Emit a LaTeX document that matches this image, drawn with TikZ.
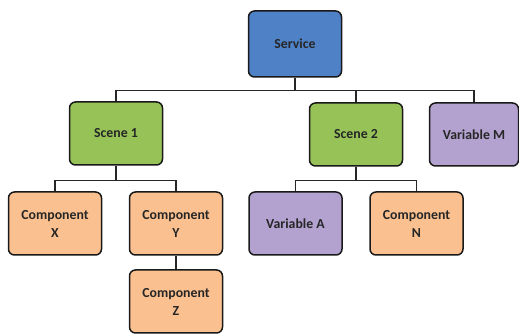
\documentclass[tikz,border=0pt]{standalone}
\usepackage{fontspec}
\setmainfont{Carlito}
\usepackage{tikz}
\usetikzlibrary{positioning}
\definecolor{svcblue}{HTML}{4F81C7}
\definecolor{scngreen}{HTML}{96C257}
\definecolor{varpurple}{HTML}{B3A2CF}
\definecolor{cmporange}{HTML}{FBC08F}
\tikzset{
    block/.style={
        draw=black!90,
        line width=1.5pt,
        rounded corners=6pt,
        minimum width=93pt,
        minimum height=63pt,
        align=center,
        inner sep=2pt,
        text=black!85,
        font=\bfseries\fontsize{13.8}{18}\selectfont
    },
    link/.style={
        draw=black!85,
        line width=1.3pt
    }
}

\begin{document}
\begin{tikzpicture}[x=1pt, y=-1pt]
    \useasboundingbox (0,0) rectangle (519,336);
    % Boxes for the tree
    \node[block, fill=svcblue, minimum height=66pt] (service) at (295,44) {Service};
    \node[block, fill=scngreen] (scene1) at (116,133.5) {Scene 1};
    \node[block, fill=scngreen] (scene2) at (356,134.5) {Scene 2};
    \node[block, fill=varpurple, minimum width=89pt] (varM) at (474,134.5) {Variable M};
    \node[block, fill=cmporange] (compX) at (55,223.5) {Component\\X};
    \node[block, fill=cmporange] (compY) at (176,223.5) {Component\\Y};
    \node[block, fill=cmporange] (compZ) at (176,301.5) {Component\\Z};
    \node[block, fill=varpurple] (varA) at (295.5,223.5) {Variable A};
    \node[block, fill=cmporange] (compN) at (416.5,223.5) {Component\\N};

    % Connectors for the tree
    \draw[link] (service.south) -- ++(0,12.5) -| (scene1.north);
    \draw[link] (service.south) -- ++(0,12.5) -| (scene2.north);
    \draw[link] (service.south) -- ++(0,12.5) -| (varM.north);
    \draw[link] (scene1.south) -- ++(0,14.5) -| (compX.north);
    \draw[link] (scene1.south) -- ++(0,14.5) -| (compY.north);
    \draw[link] (compY.south) -- (compZ.north);
    \draw[link] (scene2.south) -- ++(0,14) -| (varA.north);
    \draw[link] (scene2.south) -- ++(0,14) -| (compN.north);
\end{tikzpicture}
\end{document}
